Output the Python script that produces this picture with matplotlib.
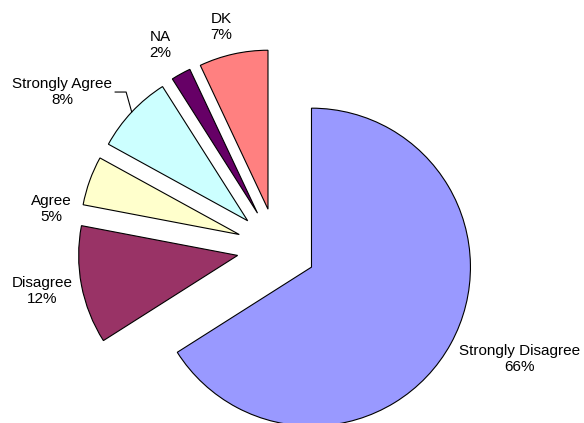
import matplotlib
matplotlib.use("Agg")
import matplotlib.pyplot as plt

# survey answers, clockwise from 12 o'clock
labels = ["Strongly Disagree", "Disagree", "Agree", "Strongly Agree", "NA", "DK"]
values = [66, 12, 5, 8, 2, 7]
colors = ["#9999FF", "#993366", "#FFFFCC", "#CCFFFF", "#660066", "#FF8080"]

plt.rcParams['font.family'] = ['Liberation Sans', 'DejaVu Sans']

fig = plt.figure(figsize=(5.84, 4.23), dpi=100)
ax = fig.add_axes([0, 0, 1, 1])

wedges, texts = ax.pie(values, labels=[f"{l}\n{v}%" for l, v in zip(labels, values)],
                       colors=colors, explode=[0.25] * len(values),
                       startangle=90, counterclock=False, radius=1.0,
                       wedgeprops=dict(edgecolor="black", linewidth=0.8),
                       textprops=dict(fontsize=11, color="black", ha="center", va="center"))

# label spots (data units, pie radius = 1)
label_pos = [(1.525, -0.70), (-1.476, -0.27), (-1.419, 0.245),
             (-1.35, 0.981), (-0.733, 1.277), (-0.35, 1.39)]
for t, p in zip(texts, label_pos):
    t.set_position(p)
    t.set_ha("center")
    t.set_va("center")
    t.set_linespacing(1.2)

# leader line for Strongly Agree
ax.plot([-1.016, -0.947, -0.912], [0.981, 0.981, 0.856], color="black", lw=0.8)

ax.set_xlim(-1.740, 1.933)
ax.set_ylim(-1.101, 1.560)
ax.set_aspect("equal")
ax.axis("off")

fig.savefig("out.png", dpi=100)
